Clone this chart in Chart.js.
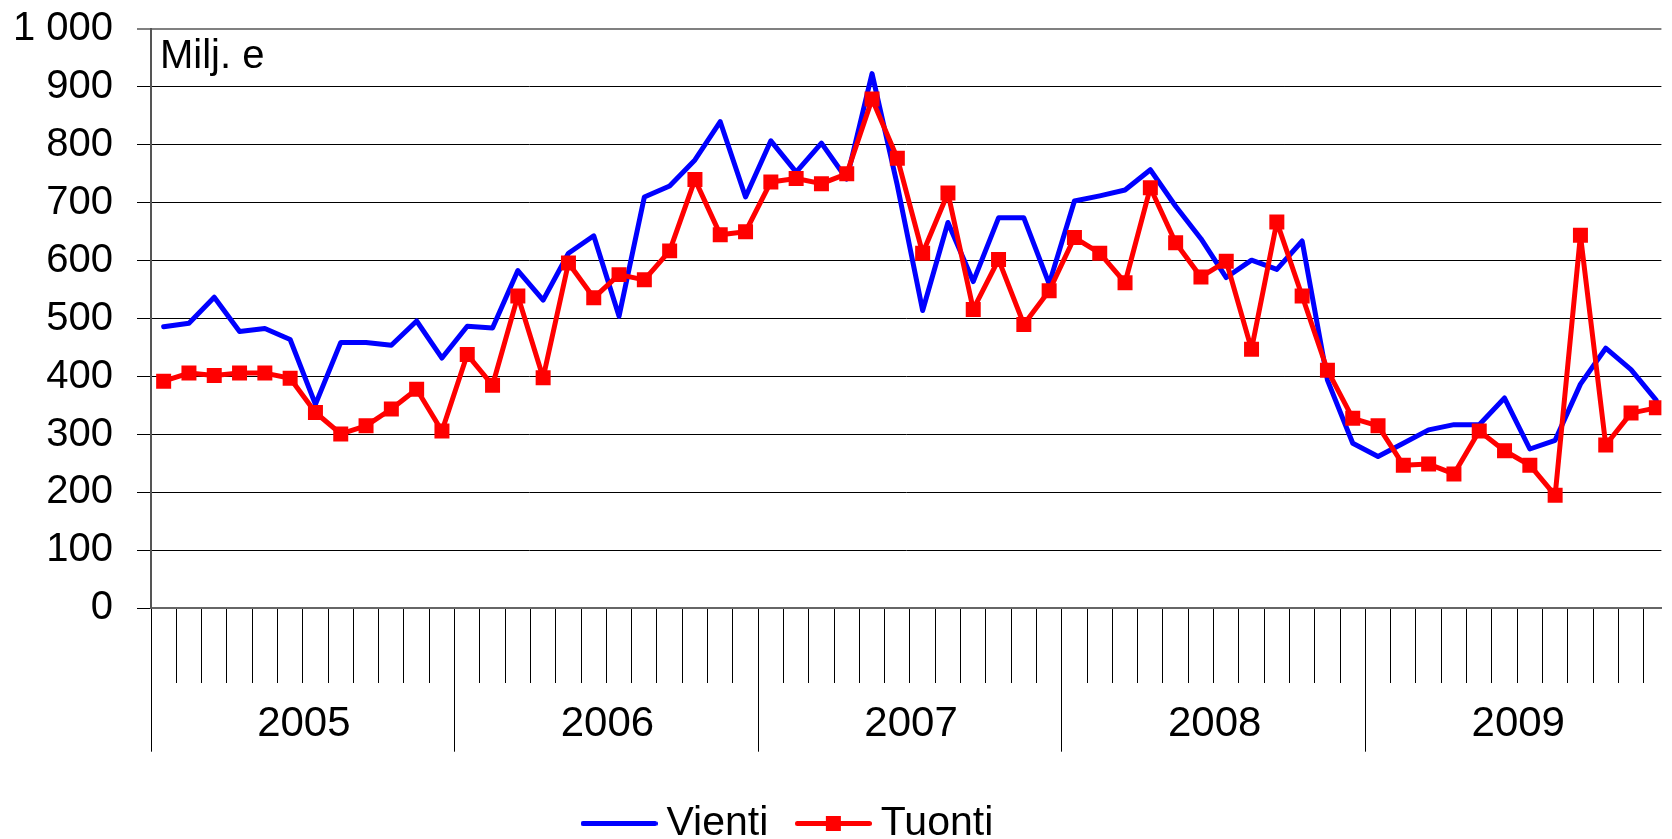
<!DOCTYPE html>
<html>
<head>
<meta charset="utf-8">
<title>Vienti ja tuonti</title>
<script src="https://cdn.jsdelivr.net/npm/chart.js@4.4.1/dist/chart.umd.min.js"></script>
<style>
  html, body { margin: 0; padding: 0; background: #fff; overflow: hidden; }
  #wrap { position: relative; width: 1672px; height: 839px; }
</style>
</head>
<body>
<div id="wrap"><canvas id="tradeChart" width="1672" height="839"></canvas></div>
<script>
// tick labels (one per year, 12 months each)
const years = ['2005', '2006', '2007', '2008', '2009'];

// Milj. e, monthly values
const vienti = [
  486, 492, 537, 478, 483, 464, 352, 459, 459, 454, 496, 432,
  487, 484, 583, 532, 613, 643, 504, 710, 729, 774, 840, 710,
  807, 753, 803, 741, 923, 730, 514, 666, 564, 674, 674, 560,
  703, 712, 722, 757, 694, 638, 571, 601, 585, 634, 394, 285,
  262, 285, 308, 317, 317, 363, 275, 290, 387, 449, 412, 359
];
const tuonti = [
  392, 406, 402, 406, 406, 397, 338, 301, 315, 344, 378, 306,
  438, 385, 539, 398, 596, 536, 576, 567, 617, 740, 645, 650,
  736, 742, 733, 750, 879, 777, 613, 717, 516, 602, 490, 548,
  640, 613, 562, 726, 631, 572, 599, 447, 667, 539, 411, 328,
  315, 247, 249, 232, 306, 272, 247, 195, 644, 282, 337, 346
];

const unitText = 'Milj. e';

Chart.defaults.font.family = "'Liberation Sans', Arial, sans-serif";
Chart.defaults.color = '#000';

// month slots visible (last year is cut by the right edge)
const xMax = 59.7;
const monthPx = (1672 - 151) / xMax;

function toPoints(values) {
  return values.map((v, i) => ({ x: i + 0.5, y: v }));
}

function formatThousands(v) {
  return String(v).replace(/\B(?=(\d{3})+(?!\d))/g, ' ');
}

// small line (+ marker) pictures for the legend
function legendIcon(color, withMarker) {
  const c = document.createElement('canvas');
  c.width = 77;
  c.height = 17;
  const g = c.getContext('2d');
  g.strokeStyle = color;
  g.lineWidth = 5;
  g.lineCap = 'round';
  g.beginPath();
  g.moveTo(2.5, 8.5);
  g.lineTo(74.5, 8.5);
  g.stroke();
  if (withMarker) {
    g.fillStyle = color;
    g.fillRect(31, 1, 15, 15);
  }
  return c;
}

const icons = {
  Vienti: legendIcon('#0000ff', false),
  Tuonti: legendIcon('#ff0000', true)
};

// move the legend to where the original has it
const placeLegend = {
  id: 'placeLegend',
  afterLayout(chart) {
    const lg = chart.legend;
    if (!lg) return;
    const w = lg.right - lg.left;
    const h = lg.bottom - lg.top;
    lg.left = 554;
    lg.right = lg.left + w;
    lg.top = 765;
    lg.bottom = lg.top + h;
  }
};

// "Milj. e" inside the plot, top left
const unitLabel = {
  id: 'unitLabel',
  afterDraw(chart) {
    const { ctx, chartArea } = chart;
    ctx.save();
    ctx.font = "40px 'Liberation Sans', Arial, sans-serif";
    ctx.fillStyle = '#000';
    ctx.textBaseline = 'alphabetic';
    ctx.textAlign = 'left';
    ctx.fillText(unitText, chartArea.left + 9, chartArea.top + 39);
    ctx.restore();
  }
};

new Chart(document.getElementById('tradeChart'), {
  type: 'line',
  data: {
    datasets: [
      {
        label: 'Vienti',
        data: toPoints(vienti),
        borderColor: '#0000ff',
        backgroundColor: '#0000ff',
        borderWidth: 5,
        pointRadius: 0,
        tension: 0,
        borderJoinStyle: 'round',
        borderCapStyle: 'round',
        order: 2
      },
      {
        label: 'Tuonti',
        data: toPoints(tuonti),
        borderColor: '#ff0000',
        backgroundColor: '#ff0000',
        borderWidth: 5,
        pointStyle: 'rect',
        pointRadius: 10.6,
        pointBorderWidth: 0,
        pointBackgroundColor: '#ff0000',
        tension: 0,
        borderJoinStyle: 'round',
        borderCapStyle: 'round',
        order: 1
      }
    ]
  },
  options: {
    responsive: false,
    animation: false,
    devicePixelRatio: 1,
    layout: { padding: { top: 29, left: 0, right: 0, bottom: 0 } },
    plugins: {
      tooltip: { enabled: false },
      legend: {
        position: 'bottom',
        align: 'start',
        labels: {
          usePointStyle: true,
          pointStyleWidth: 54,
          padding: 38,
          color: '#000',
          font: { size: 41 },
          generateLabels: (chart) => chart.data.datasets.map((ds, i) => ({
            text: ds.label,
            datasetIndex: i,
            pointStyle: icons[ds.label],
            fillStyle: ds.borderColor,
            strokeStyle: ds.borderColor,
            lineWidth: 0,
            hidden: false
          }))
        }
      }
    },
    scales: {
      x: {
        type: 'linear',
        min: 0,
        max: xMax,
        afterFit: (scale) => { scale.height = 141.7; },
        border: { color: '#666', width: 2 },
        grid: {
          drawOnChartArea: false,
          tickLength: 143.4,
          tickColor: '#000',
          tickWidth: 1,
          // year boundaries run full length, month ticks stop short
          tickBorderDash: (ctx) => (ctx.tick && ctx.tick.value % 12 === 0) ? [] : [74, 1000]
        },
        ticks: {
          stepSize: 1,
          includeBounds: false,
          autoSkip: false,
          maxRotation: 0,
          minRotation: 0,
          labelOffset: 6 * monthPx,
          padding: -52,
          color: '#000',
          font: { size: 42 },
          callback: (v) => (v % 12 === 0 ? years[v / 12] : '')
        }
      },
      y: {
        min: 0,
        max: 1000,
        afterFit: (scale) => { scale.width = 151; },
        border: { color: '#555', width: 2 },
        grid: {
          color: (ctx) => (ctx.tick && ctx.tick.value === 1000 ? '#808080' : '#000'),
          lineWidth: (ctx) => (ctx.tick && ctx.tick.value === 1000 ? 2 : 1),
          // long tick slot gives the label gap, only the 13px next to the axis is drawn
          tickLength: 38,
          tickBorderDash: [0, 24, 13, 100],
          tickColor: (ctx) => (ctx.tick && ctx.tick.value === 1000 ? '#808080' : '#000')
        },
        ticks: {
          stepSize: 100,
          padding: 0,
          color: '#000',
          font: { size: 40 },
          callback: (v) => formatThousands(v)
        }
      }
    }
  },
  plugins: [placeLegend, unitLabel]
});
</script>
</body>
</html>
